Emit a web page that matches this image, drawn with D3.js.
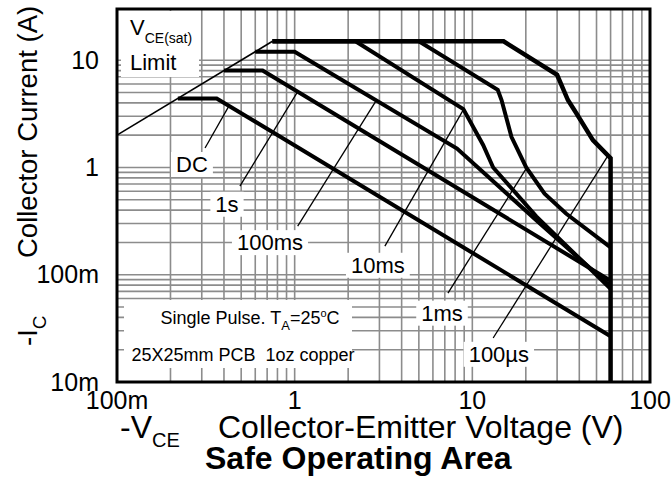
<!DOCTYPE html>
<html>
<head>
<meta charset="utf-8">
<script src="https://cdn.jsdelivr.net/npm/d3@7"></script>
<style>
  body { margin: 0; background: #fff; }
  text { font-family: "Liberation Sans", Arial, sans-serif; fill: #000; }
</style>
</head>
<body>
<div id="chart"></div>
<script>
// axis ticks
const xTickVals = [0.1, 1, 10, 100];
const xTickLabels = ["100m", "1", "10", "100"];
const yTickVals = [0.01, 0.1, 1, 10];
const yTickLabels = ["10m", "100m", "1", "10"];

// [-VCE (V), -IC (A)]
const vsatLimit = [[0.1, 2], [0.75, 15]];
const dcCurve = [[0.22, 4.4], [0.364, 4.4], [60, 0.0267]];
const s1Curve = [[0.4, 8], [0.66, 8], [60, 0.088]];
const ms100Curve = [[0.6, 12], [1.0, 12], [8.2, 1.5], [24, 0.30], [60, 0.078]];
const ms10Curve = [[0.75, 15], [2.2, 15], [8.9, 3.5], [11.5, 1.62], [13.1, 1.0], [22.9, 0.35], [60, 0.074]];
const ms1Curve = [[0.75, 15], [5, 15], [13.9, 5.3], [14.6, 4.25], [16.6, 1.93], [20.1, 1.0], [25.5, 0.57], [33.8, 0.37], [60, 0.18]];
const us100Curve = [[0.75, 15], [15, 15], [30, 7.3], [34.5, 4.25], [38.5, 3.2], [47.7, 1.8], [60, 1.22], [60, 0.01]];

// curve names, label centre and leader line, in data units
const curveLabels = [
  {name: "DC",    at: [0.264, 1.07],  from: [0.313, 1.52],  to: [0.427, 3.75]},
  {name: "1s",    at: [0.416, 0.456], from: [0.492, 0.671], to: [1.04, 5.1]},
  {name: "100ms", at: [0.726, 0.2],   from: [1.04, 0.284],  to: [2.87, 4.18]},
  {name: "10ms",  at: [2.94, 0.123],  from: [3.22, 0.185],  to: [8.86, 3.4]},
  {name: "1ms",   at: [6.75, 0.044],  from: [7.29, 0.0675], to: [20.3, 1.0]},
  {name: "100\u00b5s", at: [14.1, 0.0182], from: [13.1, 0.0257], to: [57.3, 1.25]}
];

const margin = {top: 9, right: 22, bottom: 118, left: 117};
const width = 672 - margin.left - margin.right,
      height = 500 - margin.top - margin.bottom;

const root = d3.select("#chart").append("svg")
    .attr("width", 672)
    .attr("height", 500);

const svg = root.append("g")
    .attr("transform", "translate(" + margin.left + "," + margin.top + ")");

const x = d3.scaleLog().domain([0.1, 100]).range([0, width]);
const y = d3.scaleLog().domain([0.01, 30]).range([height, 0]);

// log grid
svg.selectAll(".vgrid")
  .data(x.ticks().filter(v => v > 0.1 && v < 100))
  .join("line")
  .attr("x1", d => x(d)).attr("x2", d => x(d))
  .attr("y1", 0).attr("y2", height)
  .attr("stroke", "#8c8c8c").attr("stroke-width", 1.6);

svg.selectAll(".hgrid")
  .data(y.ticks().filter(v => v > 0.01 && v <= 10))
  .join("line")
  .attr("x1", 0).attr("x2", width)
  .attr("y1", d => y(d)).attr("y2", d => y(d))
  .attr("stroke", "#8c8c8c").attr("stroke-width", 1.6);

// white note boxes
const vsatBox = svg.append("g");
vsatBox.append("rect").attr("x", 4).attr("y", 2).attr("width", 78).attr("height", 66).attr("fill", "#fff");
const vt = vsatBox.append("text").attr("x", 13).attr("y", 26).style("font-size", "22px");
vt.append("tspan").text("V");
vt.append("tspan").attr("dy", 8).style("font-size", "14px").text("CE(sat)");
vsatBox.append("text").attr("x", 13).attr("y", 61).style("font-size", "22px").text("Limit");

const noteBox = svg.append("g");
noteBox.append("rect").attr("x", 7).attr("y", 291).attr("width", 228).attr("height", 68).attr("fill", "#fff");
const n1 = noteBox.append("text").attr("x", 133).attr("y", 315)
    .attr("text-anchor", "middle").style("font-size", "18px");
n1.append("tspan").text("Single Pulse. T");
n1.append("tspan").attr("dy", 6).style("font-size", "13px").text("A");
n1.append("tspan").attr("dy", -6).text("=25");
n1.append("tspan").attr("dy", -7).style("font-size", "11px").text("o");
n1.append("tspan").attr("dy", 7).text("C");
noteBox.append("text").attr("x", 126).attr("y", 352)
    .attr("text-anchor", "middle").style("font-size", "18px")
    .text("25X25mm PCB\u00a0\u00a01oz copper");

// curves
const line = d3.line().x(d => x(d[0])).y(d => y(d[1]));

svg.append("path").datum(vsatLimit)
  .attr("d", line).attr("fill", "none")
  .attr("stroke", "#000").attr("stroke-width", 1.6);

[dcCurve, s1Curve, ms100Curve, ms10Curve, ms1Curve].forEach(c => {
  svg.append("path").datum(c)
    .attr("d", line).attr("fill", "none")
    .attr("stroke", "#000").attr("stroke-width", 4);
});
svg.append("path").datum(us100Curve)
  .attr("d", line).attr("fill", "none")
  .attr("stroke", "#000").attr("stroke-width", 4.5);

// labels with leaders
curveLabels.forEach(l => {
  svg.append("line")
    .attr("x1", x(l.from[0])).attr("y1", y(l.from[1]))
    .attr("x2", x(l.to[0])).attr("y2", y(l.to[1]))
    .attr("stroke", "#000").attr("stroke-width", 1.3);
  const g = svg.append("g");
  const r = g.append("rect").attr("fill", "#fff");
  const t = g.append("text")
    .attr("x", x(l.at[0])).attr("y", y(l.at[1]))
    .attr("text-anchor", "middle").attr("dy", "0.35em")
    .style("font-size", "22px").text(l.name);
  const b = t.node().getBBox();
  r.attr("x", b.x - 5).attr("y", b.y).attr("width", b.width + 10).attr("height", b.height);
});

// frame
svg.append("rect")
  .attr("width", width).attr("height", height)
  .attr("fill", "none").attr("stroke", "#000").attr("stroke-width", 3);

// tick labels
svg.selectAll(".xlab")
  .data(xTickVals)
  .join("text")
  .attr("x", d => x(d)).attr("y", height + 27)
  .attr("text-anchor", "middle").style("font-size", "25px")
  .text((d, i) => xTickLabels[i]);

svg.selectAll(".ylab")
  .data(yTickVals)
  .join("text")
  .attr("x", -18).attr("y", d => y(d)).attr("dy", "0.35em")
  .attr("text-anchor", "end").style("font-size", "25px")
  .text((d, i) => yTickLabels[i]);

// axis titles
const xt = root.append("text").attr("x", 120).attr("y", 438).style("font-size", "32px");
xt.append("tspan").text("-V");
xt.append("tspan").attr("dy", 9).style("font-size", "20px").text("CE");
xt.append("tspan").attr("x", 218).attr("dy", -9).text("Collector-Emitter Voltage (V)");

root.append("text").attr("x", 205).attr("y", 469)
  .style("font-size", "32px").style("font-weight", "bold")
  .text("Safe Operating Area");

const yt = root.append("text").attr("transform", "translate(37,0) rotate(-90)")
  .style("font-size", "27.5px");
yt.append("tspan").attr("x", -346).text("-I");
yt.append("tspan").attr("dy", 9).style("font-size", "19px").text("C");
yt.append("tspan").attr("x", -258).attr("dy", -9).text("Collector Current (A)");
</script>
</body>
</html>
